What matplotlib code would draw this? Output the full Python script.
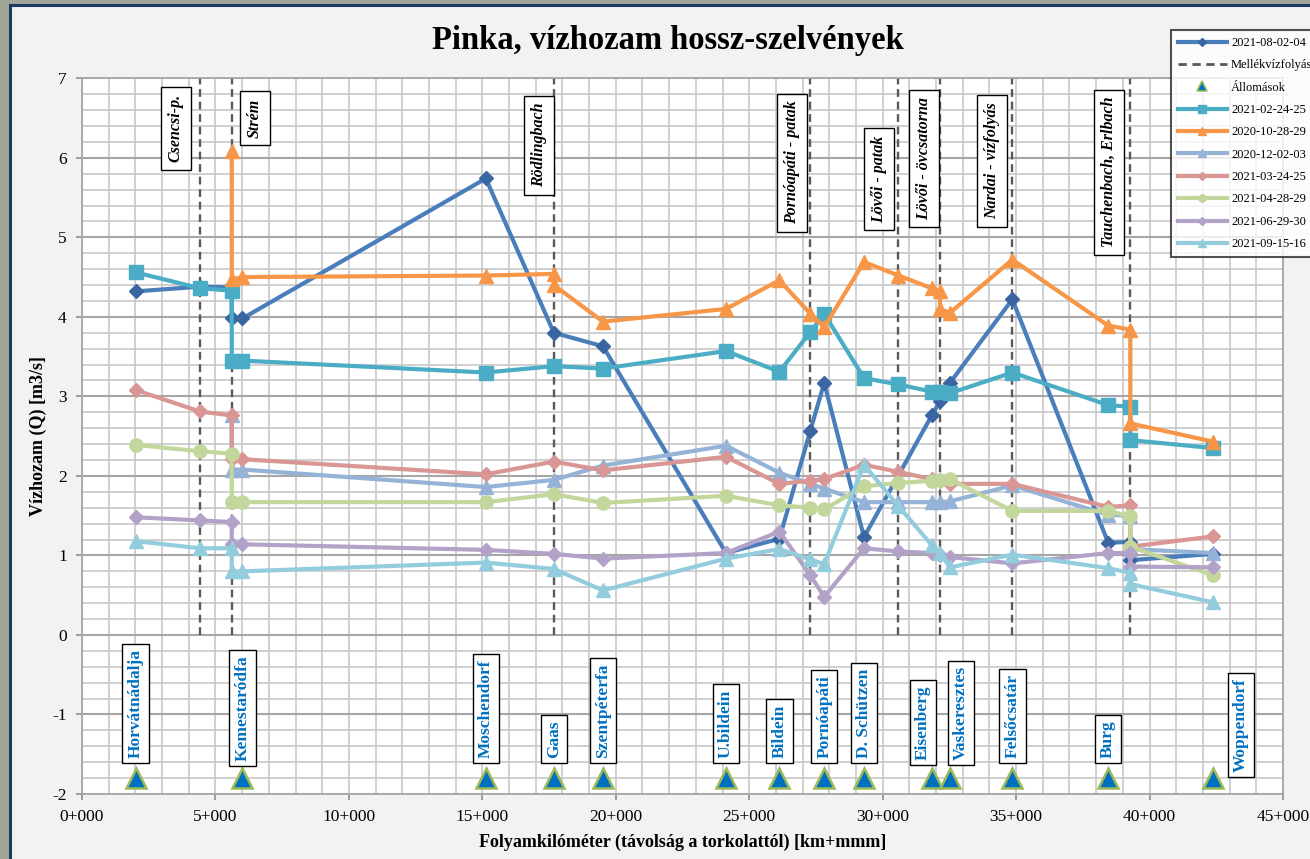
import matplotlib
matplotlib.use('Agg')
import matplotlib.pyplot as plt
from matplotlib.lines import Line2D
from matplotlib.patches import Rectangle
from matplotlib.ticker import MultipleLocator, FuncFormatter

plt.rcParams['font.family'] = ['Liberation Serif', 'DejaVu Serif']
plt.rcParams['axes.unicode_minus'] = False

# ---------------- data ----------------
station_names = ['Horvátnádalja', 'Kemestaródfa', 'Moschendorf', 'Gaas', 'Szentpéterfa',
                 'U.bildein', 'Bildein', 'Pornóapáti', 'D. Schützen', 'Eisenberg',
                 'Vaskeresztes', 'Felsőcsatár', 'Burg', 'Woppendorf']
station_km = [2010, 6010, 15130, 17680, 19520, 24130, 26130, 27810, 29300, 31840,
              32520, 34860, 38450, 42390]
station_marker_q = -1.8

trib_names = ['Csencsi-p.', 'Strém', 'Rödlingbach', 'Pornóapáti - patak', 'Lövői - patak',
              'Lövői - övcsatorna', 'Nardai - vízfolyás', 'Tauchenbach, Erlbach']
trib_km = [4420, 5610, 17680, 27290, 30590, 32150, 34860, 39280]

km_0802 = [2010, 4420, 5610, 5610, 6010, 15130, 17680, 19520, 24130, 26130, 27290,
           27810, 29300, 31840, 32150, 32520, 34860, 38450, 39280, 39280, 42390]
q_0802 = [4.32, 4.38, 4.37, 3.98, 3.98, 5.74, 3.80, 3.63, 1.03, 1.21, 2.57,
          3.17, 1.23, 2.76, 2.94, 3.17, 4.22, 1.16, 1.17, 0.94, 1.02]

km_0224 = [2010, 4420, 5610, 5610, 6010, 15130, 17680, 19520, 24130, 26130, 27290,
           27810, 29300, 30590, 31840, 32150, 32520, 34860, 38450, 39280, 39280, 42390]
q_0224 = [4.56, 4.36, 4.33, 3.45, 3.45, 3.30, 3.38, 3.35, 3.57, 3.31, 3.81,
          4.04, 3.23, 3.15, 3.06, 3.05, 3.04, 3.30, 2.89, 2.87, 2.45, 2.35]

km_1028 = [5610, 5610, 6010, 15130, 17680, 17680, 19520, 24130, 26130, 27290, 27810,
           29300, 30590, 31840, 32150, 32150, 32520, 34860, 38450, 39280, 39280, 42390]
q_1028 = [6.08, 4.47, 4.50, 4.52, 4.54, 4.40, 3.94, 4.10, 4.46, 4.04, 3.87,
          4.69, 4.52, 4.36, 4.33, 4.10, 4.05, 4.72, 3.89, 3.84, 2.66, 2.43]

km_1202 = [5610, 5610, 6010, 15130, 17680, 19520, 24130, 26130, 27290, 27810,
           29300, 30590, 31840, 32150, 32520, 34860, 38450, 39280, 39280, 42390]
q_1202 = [2.76, 2.08, 2.08, 1.86, 1.95, 2.13, 2.38, 2.04, 1.90, 1.84,
          1.67, 1.67, 1.67, 1.67, 1.68, 1.88, 1.51, 1.50, 1.08, 1.03]

km_0324 = [2010, 4420, 5610, 5610, 6010, 15130, 17680, 19520, 24130, 26130, 27290,
           27810, 29300, 30590, 31840, 32150, 32520, 34860, 38450, 39280, 39280, 42390]
q_0324 = [3.08, 2.81, 2.76, 2.21, 2.21, 2.02, 2.18, 2.07, 2.24, 1.90, 1.94,
          1.96, 2.14, 2.05, 1.96, 1.93, 1.90, 1.90, 1.61, 1.63, 1.11, 1.24]

km_0428 = [2010, 4420, 5610, 5610, 6010, 15130, 17680, 19520, 24130, 26130, 27290,
           27810, 29300, 30590, 31840, 32150, 32520, 34860, 38450, 39280, 39280, 42390]
q_0428 = [2.39, 2.31, 2.28, 1.67, 1.67, 1.67, 1.77, 1.66, 1.75, 1.63, 1.60,
          1.58, 1.87, 1.91, 1.94, 1.95, 1.96, 1.56, 1.56, 1.49, 1.11, 0.75]

km_0629 = [2010, 4420, 5610, 5610, 6010, 15130, 17680, 19520, 24130, 26130, 27290,
           27810, 29300, 30590, 31840, 32150, 32520, 34860, 38450, 39280, 39280, 42390]
q_0629 = [1.48, 1.44, 1.42, 1.15, 1.14, 1.07, 1.02, 0.96, 1.03, 1.30, 0.75,
          0.48, 1.09, 1.05, 1.03, 1.00, 0.98, 0.90, 1.03, 1.03, 0.86, 0.85]

km_0915 = [2010, 4420, 5610, 5610, 6010, 15130, 17680, 19520, 24130, 26130, 27290,
           27810, 29300, 30590, 31840, 32150, 32520, 34860, 38450, 39280, 39280, 42390]
q_0915 = [1.18, 1.09, 1.09, 0.80, 0.80, 0.91, 0.83, 0.56, 0.96, 1.08, 0.95,
          0.89, 2.14, 1.62, 1.13, 1.03, 0.85, 1.01, 0.84, 0.78, 0.64, 0.41]

# ---------------- layout (label box placement) ----------------
station_label_x = [2010, 6010, 15130, 17680, 19520, 24130, 26130, 27810, 29300, 31510,
                   32930, 34860, 38450, 43420]
station_label_bottom = [-1.61, -1.65, -1.61, -1.61, -1.61, -1.61, -1.61, -1.61, -1.61, -1.64,
                        -1.64, -1.61, -1.61, -1.79]
trib_label_x = [3520, 6480, 17120, 26600, 29860, 31550, 34090, 38480]
trib_label_y = [6.37, 6.50, 6.16, 5.94, 5.73, 5.99, 5.96, 5.82]

series = [
    ('2021-08-02-04', km_0802, q_0802, '#4A7EBB', 'D', 7.5, '#3A65A3'),
    ('2021-02-24-25', km_0224, q_0224, '#4BACC6', 's', 9.5, '#4BACC6'),
    ('2020-10-28-29', km_1028, q_1028, '#F79646', '^', 10.5, '#F79646'),
    ('2020-12-02-03', km_1202, q_1202, '#95B3D7', '^', 10.5, '#95B3D7'),
    ('2021-03-24-25', km_0324, q_0324, '#D99694', 'D', 7.5, '#D99694'),
    ('2021-04-28-29', km_0428, q_0428, '#C3D69B', 'o', 9.5, '#C3D69B'),
    ('2021-06-29-30', km_0629, q_0629, '#B3A2C7', 'D', 7.5, '#B3A2C7'),
    ('2021-09-15-16', km_0915, q_0915, '#93CDDD', '^', 10.5, '#93CDDD'),
]

# ---------------- figure ----------------
fig = plt.figure(figsize=(13.10, 8.59), dpi=100)
fig.patch.set_facecolor('#A0A596')
panel = Rectangle((10 / 1310, -0.02), 1.05, 1.02 - 5 / 859, transform=fig.transFigure,
                  facecolor='#F2F2F2', edgecolor='#1F3864', linewidth=2.2, zorder=0)
fig.add_artist(panel)

ax = fig.add_axes([82 / 1310, 1 - 794 / 859, (1283 - 82) / 1310, (794 - 78.3) / 859])
ax.set_facecolor('white')
ax.set_xlim(0, 45000)
ax.set_ylim(-2, 7)

ax.xaxis.set_major_locator(MultipleLocator(5000))
ax.xaxis.set_minor_locator(MultipleLocator(1000))
ax.yaxis.set_major_locator(MultipleLocator(1))
ax.yaxis.set_minor_locator(MultipleLocator(0.2))
ax.xaxis.set_major_formatter(FuncFormatter(lambda v, p: f"{int(round(v / 1000))}+000"))
ax.yaxis.set_major_formatter(FuncFormatter(lambda v, p: f"{int(round(v))}"))

ax.set_axisbelow(True)
ax.grid(which='minor', axis='both', color='#C4C4C4', linewidth=1.1)
ax.grid(which='major', axis='x', color='#C4C4C4', linewidth=1.1)
ax.grid(which='major', axis='y', color='#A6A6A6', linewidth=1.5)
for s in ax.spines.values():
    s.set_color('#A6A6A6')
    s.set_linewidth(1.3)
ax.tick_params(which='major', direction='out', length=4, width=1.2, color='#8C8C8C',
               labelsize=12.5, pad=7)
ax.tick_params(which='minor', length=0)

# tributary dashed lines
ax.vlines(trib_km, 0, 7, colors='#595959', linestyles=(0, (3.3, 2)), linewidth=1.7, zorder=2)

# series
handles = []
for i, (lab, xs, ys, col, mk, ms, mcol) in enumerate(series):
    ax.plot(xs, ys, color=col, lw=3.0, marker=mk, ms=ms, mfc=mcol, mec=mcol,
            zorder=3 + i * 0.1)
    handles.append(Line2D([], [], color=col, lw=3.0, marker=mk, ms=ms * 0.55,
                          mfc=mcol, mec=mcol, label=lab))

# stations
ax.plot(station_km, [station_marker_q] * len(station_km), ls='none', marker='^', ms=14,
        mfc='#0070C0', mec='#9BBB59', mew=1.8, zorder=4)

# station labels
for name, lx, lb in zip(station_names, station_label_x, station_label_bottom):
    ax.text(lx, lb + 0.065, name, rotation=90, ha='center', va='bottom', fontsize=12.5,
            fontweight='bold', color='#0070C0', zorder=6,
            bbox=dict(boxstyle='square,pad=0.3', facecolor='white', edgecolor='black',
                      linewidth=1.0))

# tributary labels
for name, lx, ly in zip(trib_names, trib_label_x, trib_label_y):
    ax.text(lx, ly, name, rotation=90, ha='center', va='center', fontsize=11.5,
            fontweight='bold', fontstyle='italic', color='black', zorder=6,
            bbox=dict(boxstyle='square,pad=0.45', facecolor='white', edgecolor='black',
                      linewidth=1.0))

ax.set_ylabel('Vízhozam (Q) [m3/s]', fontsize=13, fontweight='bold')
ax.yaxis.set_label_coords(-0.0366, 0.5)
ax.yaxis.label.set_va('center')
ax.set_xlabel('Folyamkilóméter (távolság a torkolattól) [km+mmm]', fontsize=13,
              fontweight='bold')
ax.xaxis.set_label_coords(0.5, -0.068)
ax.xaxis.label.set_va('center')

fig.text(0.510, 0.953, 'Pinka, vízhozam hossz-szelvények', ha='center', va='center',
         fontsize=23.5, fontweight='bold')

# legend
h_mellek = Line2D([], [], color='#595959', ls=(0, (3, 2)), lw=2.0, label='Mellékvízfolyás')
h_allom = Line2D([], [], ls='none', marker='^', ms=7, mfc='#0070C0', mec='#9BBB59',
                 mew=1.2, label='Állomások')
leg_handles = [handles[0], h_mellek, h_allom] + handles[1:]
leg = fig.legend(handles=leg_handles, loc='upper left',
                 bbox_to_anchor=(1171 / 1310, 1 - 30 / 859), bbox_transform=fig.transFigure,
                 fontsize=9, frameon=True, fancybox=False, borderaxespad=0,
                 handlelength=3.9, handletextpad=0.35, labelspacing=0.83, borderpad=0.55)
leg.get_frame().set_edgecolor('#262626')
leg.get_frame().set_linewidth(1.5)
leg.get_frame().set_facecolor('white')
leg.set_zorder(10)

fig.savefig('out.png', dpi=100)
